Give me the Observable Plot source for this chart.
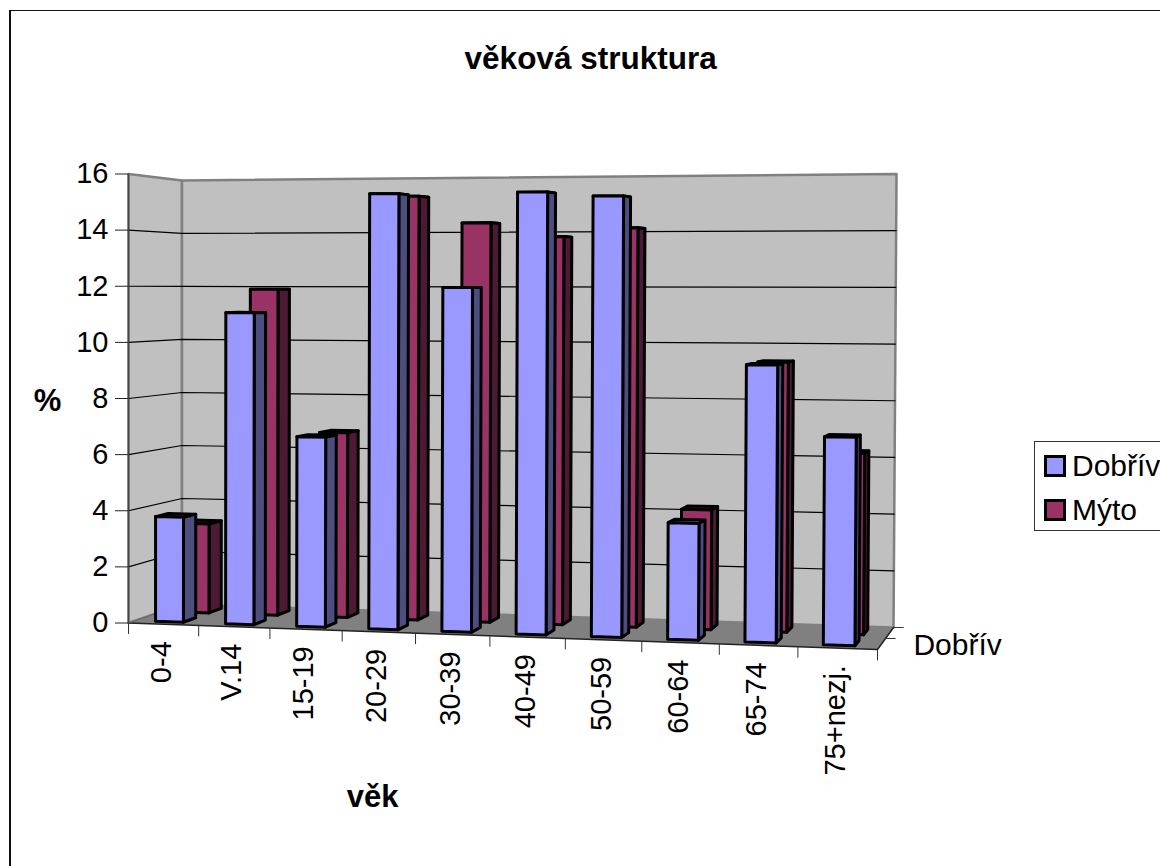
<!DOCTYPE html>
<html><head><meta charset="utf-8">
<script src="https://cdn.jsdelivr.net/npm/d3@7"></script>
<script src="https://cdn.jsdelivr.net/npm/@observablehq/plot@0.6"></script>
<style>
html,body{margin:0;padding:0;background:#fff;overflow:hidden;width:1160px;height:866px}
#frame{position:absolute;left:9px;top:10px;width:1170px;height:870px;border-left:2px solid #111;border-top:1px solid #111}
#chart{position:absolute;left:0;top:0}
#legend{position:absolute;left:1034px;top:441px;width:160px;height:88px;border:1px solid #333;background:#fff;font:30px "Liberation Sans",Arial,sans-serif;color:#000}
.row{position:absolute;left:9px;display:flex;align-items:center;height:22px;white-space:nowrap}
.sw{width:16px;height:16px;border:3px solid #000;margin-right:6px}
</style></head><body>
<div id="frame"></div><div id="chart"></div>
<div id="legend">
<div class="row" style="top:13px"><span class="sw" style="background:#9999FF"></span>Dobřív</div>
<div class="row" style="top:57px"><span class="sw" style="background:#993366"></span>Mýto</div>
</div>
<script>
const categories = ["0-4","V.14","15-19","20-29","30-39","40-49","50-59","60-64","65-74","75+nezj."];
const dobriv = [3.75,11.07,6.7,15.27,11.99,15.3,15.15,3.98,9.4,7.0];
const myto = [3.27,11.9,6.7,15.27,14.3,13.8,14.1,4.2,9.4,6.27];
const yTicks = [0,2,4,6,8,10,12,14,16];

// corners of the box in chart units: front-left, front-right, back-right, back-left
const floorQuad = [[0,0],[10,-0.944],[10.214,-0.16],[0.714,0.659]];
const topQuad = [[0,16],[10.04,16.2],[10.254,16],[0.714,15.77]];
const spread = 0.07; // categories widen slightly towards the right
function bilinear(q,u,v){
  const w=u+spread*u*(u-1);
  return [0,1].map(c=>(q[0][c]*(1-w)+q[1][c]*w)*(1-v)+(q[3][c]*(1-w)+q[2][c]*w)*v);
}
// u: category position, v: depth 0..1, val: percent
function P(u,v,val){
  const f=bilinear(floorQuad,u/10,v), t=bilinear(topQuad,u/10,v), k=val/16;
  return {x:f[0]+(t[0]-f[0])*k, y:f[1]+(t[1]-f[1])*k};
}
let pid=0;
function poly(pts,fill){const id=pid++; return [...pts,pts[0]].map(p=>({...p,id,fill}));}
function bar(i,val,v1,v2,front,side,top){
  const u1=i+0.29,u2=i+0.69;
  return [
    ...poly([P(u1,v1,val),P(u2,v1,val),P(u2,v2,val),P(u1,v2,val)],top),
    ...poly([P(u2,v1,0),P(u2,v2,0),P(u2,v2,val),P(u2,v1,val)],side),
    ...poly([P(u1,v1,0),P(u2,v1,0),P(u2,v1,val),P(u1,v1,val)],front)
  ];
}
const blueFaces=dobriv.flatMap((d,i)=>bar(i,d,0.13,0.37,"#9999FF","#4D4D80","#5C5C99"));
const maroonFaces=myto.flatMap((d,i)=>bar(i,d,0.63,0.87,"#993366","#4D1A33","#6B2447"));
const wallFaces=[
  ...poly([P(0,0,0),P(0,1,0),P(0,1,16),P(0,0,16)],"#C0C0C0"),
  ...poly([P(0,1,0),P(10,1,0),P(10,1,16),P(0,1,16)],"#C0C0C0")
];
const floorFace=poly([P(0,0,0),P(10,0,0),P(10,1,0),P(0,1,0)],"#808080");
const grid=yTicks.slice(1,-1).flatMap((t,j)=>[P(0,0,t),P(0,1,t),P(10,1,t)].map(p=>({...p,j})));
const catTicks=d3.range(0,11).map(i=>{const p=P(i,0,0);return {x:p.x,y1:p.y,y2:p.y-0.39};});
const depthTicks=[0.5,1].map(v=>{const p=P(10,v,0);return {x1:p.x,x2:p.x+0.135,y:p.y};});
const labels=categories.map((c,i)=>{const p=P(i+0.5,0,0);return {c,x:p.x,y:p.y};});
const faceMark=d=>Plot.line(d,{x:"x",y:"y",z:"id",fill:"fill",stroke:"#000",strokeWidth:3,strokeLinejoin:"round",curve:"linear"});

const chart=Plot.plot({
  width:1160,height:866,marginLeft:128,marginRight:283,marginTop:173.5,marginBottom:243.5,
  style:{background:"transparent",fontFamily:"'Liberation Sans',Arial,sans-serif",fontSize:"29px",color:"#000",overflow:"hidden"},
  x:{domain:[0,10],axis:null},
  y:{domain:[0,16],label:null},
  marks:[
    Plot.line(wallFaces,{x:"x",y:"y",z:"id",fill:"fill",stroke:"#808080",strokeWidth:2.5}),
    Plot.line(floorFace,{x:"x",y:"y",fill:"fill",stroke:"none"}),
    Plot.line(grid,{x:"x",y:"y",z:"j",stroke:"#000",strokeWidth:1.2}),
    Plot.line([P(0,0,0),P(0,0,16)],{x:"x",y:"y",stroke:"#444",strokeWidth:1.5}),
    Plot.line([P(0,0,0),P(10,0,0),P(10,1,0)],{x:"x",y:"y",stroke:"#222",strokeWidth:1.5}),
    Plot.line([P(0,0,0),P(0,1,0)],{x:"x",y:"y",stroke:"#666",strokeWidth:1}),
    Plot.axisY({ticks:yTicks,tickSize:13,tickPadding:7,fontSize:29,tickFormat:d=>String(d),label:null,stroke:"#222"}),
    Plot.link(catTicks,{x1:"x",x2:"x",y1:"y1",y2:"y2",stroke:"#333"}),
    Plot.link(depthTicks,{x1:"x1",x2:"x2",y1:"y",y2:"y",stroke:"#333"}),
    faceMark(maroonFaces),
    faceMark(blueFaces),
    Plot.text(labels,{x:"x",y:"y",text:"c",rotate:-90,textAnchor:"end",dy:17,dx:-2,fontSize:29,lineAnchor:"middle",fill:"#000"}),
    Plot.text(["Dobřív"],{x:10.48,y:-0.8,text:d=>d,textAnchor:"start",fontSize:30,fill:"#000"}),
    Plot.text(["věková struktura"],{x:6.17,y:20.1,text:d=>d,fontSize:31.5,fontWeight:"bold",fill:"#000"}),
    Plot.text(["%"],{x:-1.08,y:7.9,text:d=>d,fontSize:31,fontWeight:"bold",fill:"#000"}),
    Plot.text(["věk"],{x:3.26,y:-6.2,text:d=>d,fontSize:31,fontWeight:"bold",fill:"#000"})
  ]
});
chart.setAttribute("font-family","'Liberation Sans',Arial,sans-serif");
document.getElementById("chart").appendChild(chart);
</script></body></html>
